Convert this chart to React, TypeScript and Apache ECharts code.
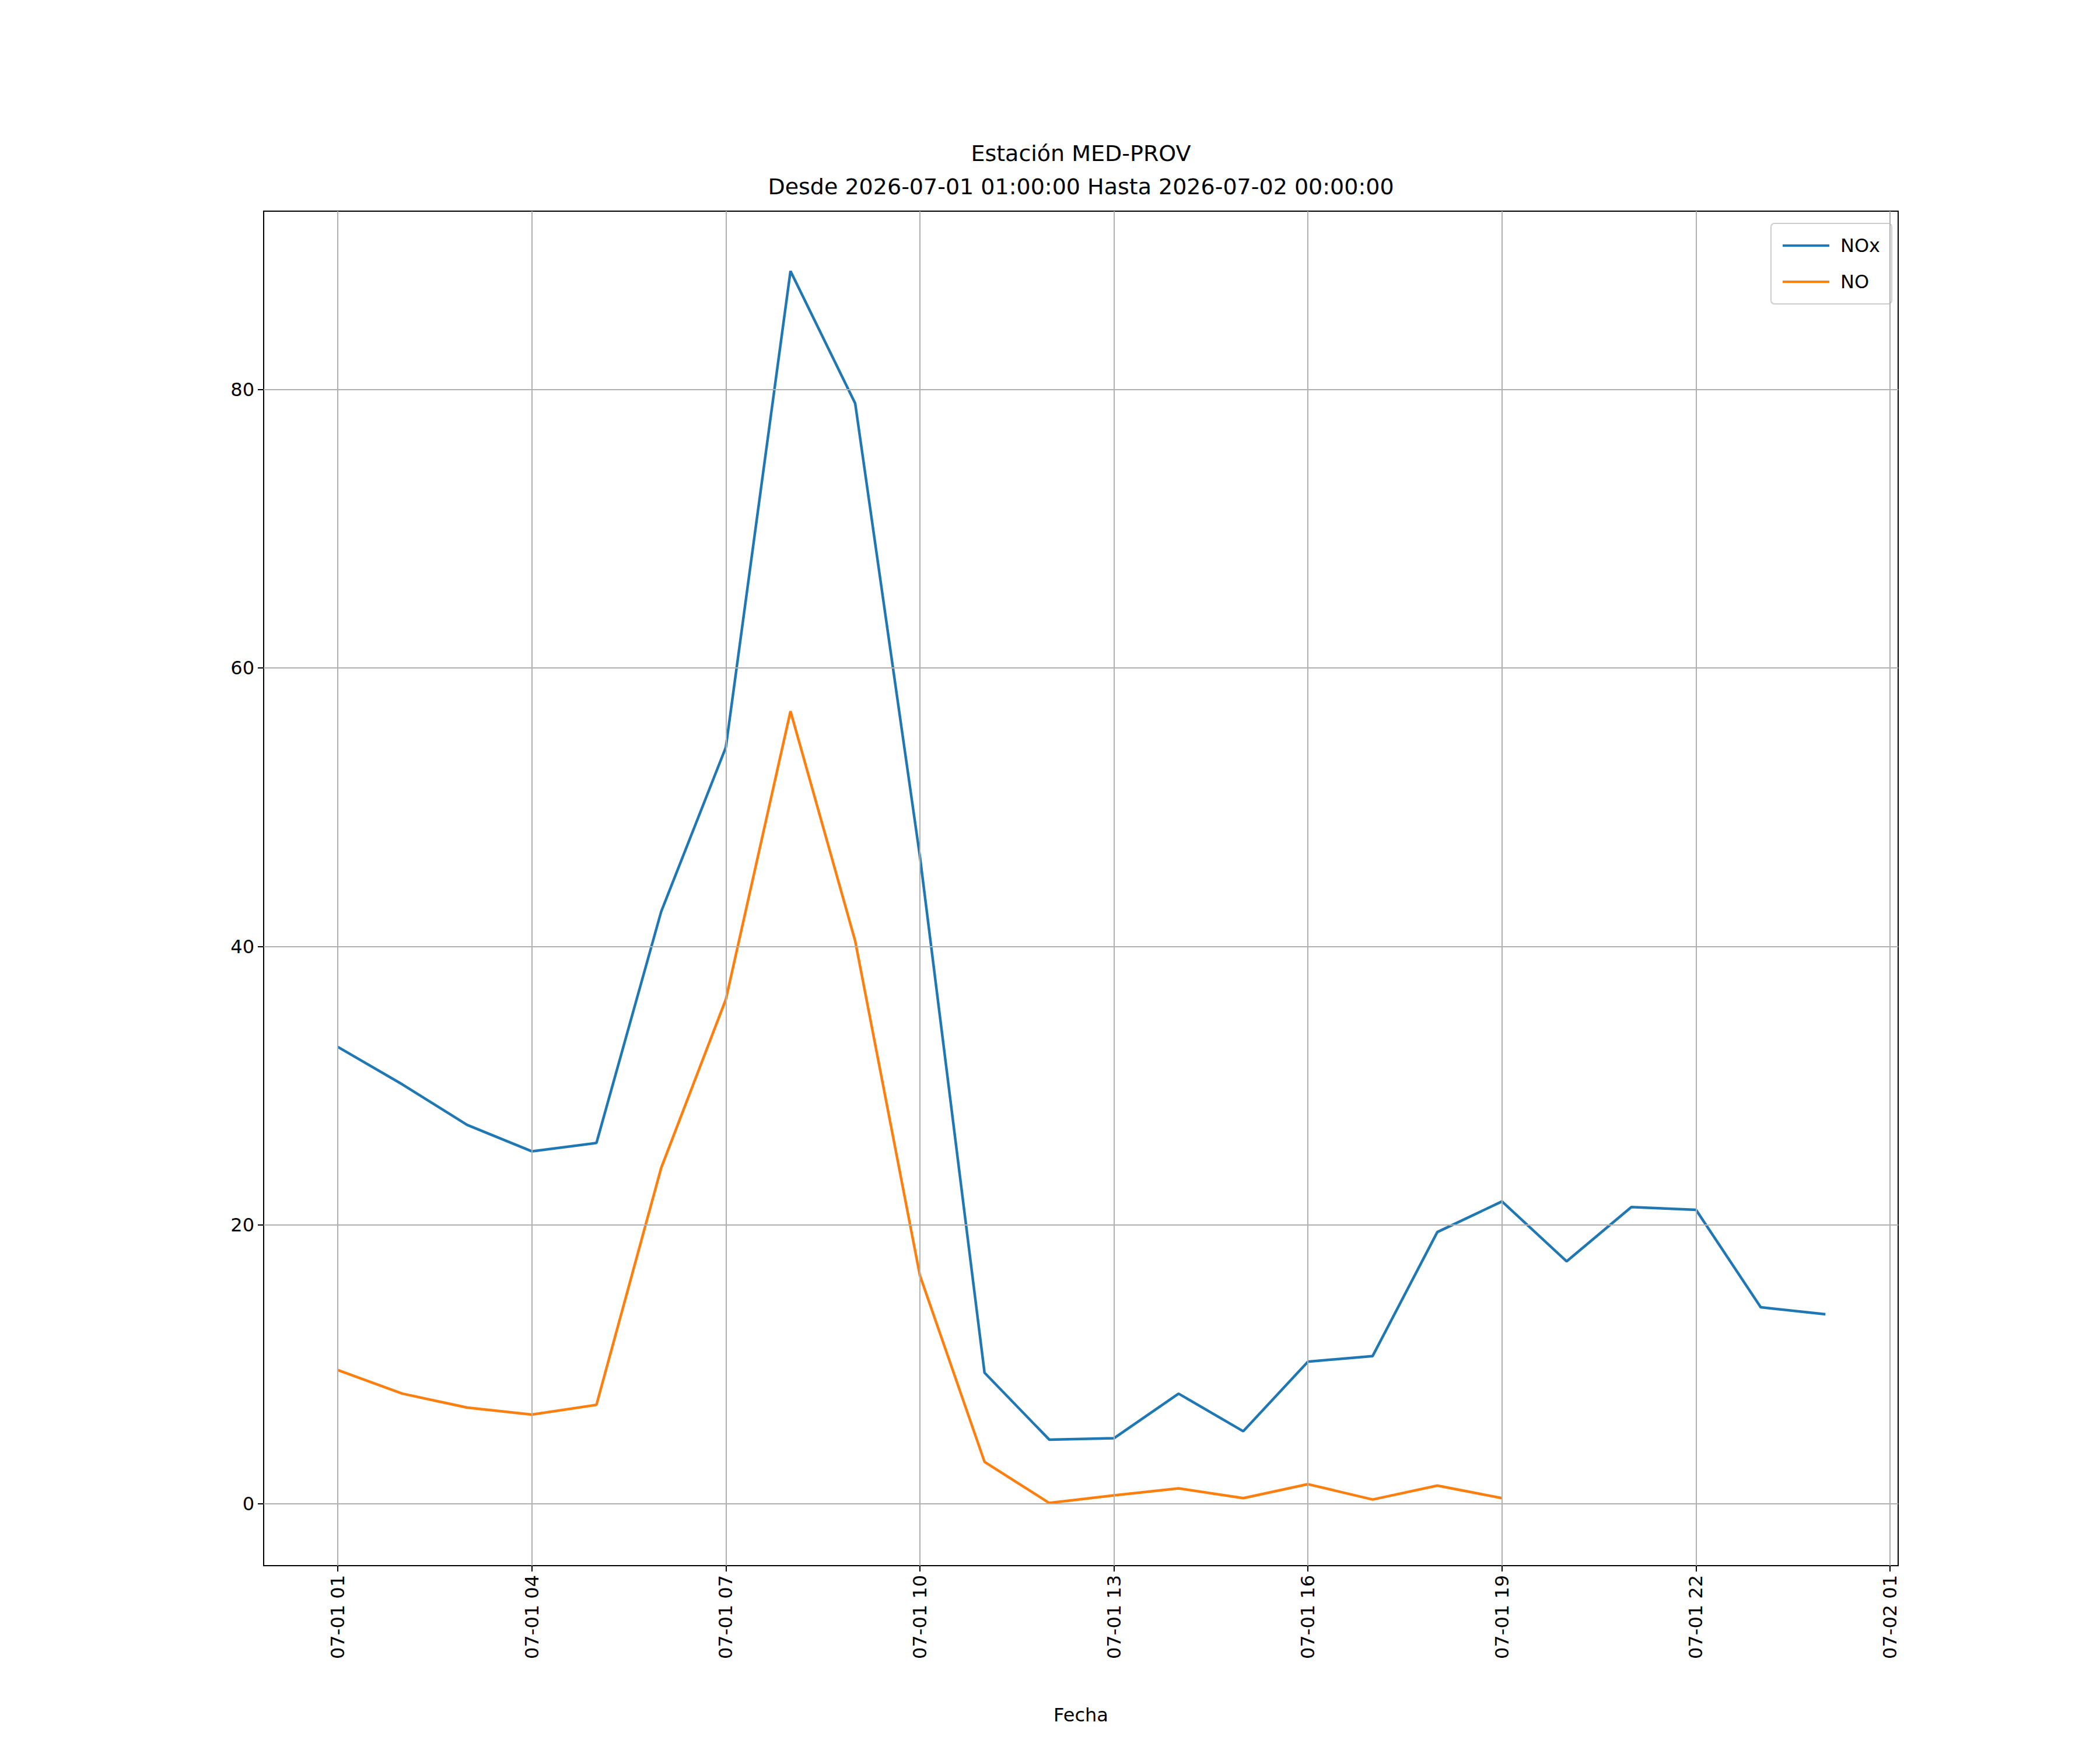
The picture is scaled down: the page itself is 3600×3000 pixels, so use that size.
import { useEffect, useRef } from "react";
import * as echarts from "echarts";

const hours = [1, 2, 3, 4, 5, 6, 7, 8, 9, 10, 11, 12, 13, 14, 15, 16, 17, 18, 19, 20, 21, 22, 23, 24];
const noxValues = [32.8, 30.1, 27.2, 25.3, 25.9, 42.5, 54.3, 88.5, 79.0, 46.5, 9.4, 4.6, 4.7, 7.9, 5.2, 10.2, 10.6, 19.5, 21.7, 17.4, 21.3, 21.1, 14.1, 13.6];
const noValues = [9.6, 7.9, 6.9, 6.4, 7.1, 24.1, 36.2, 56.9, 40.4, 16.4, 3.0, 0.05, 0.6, 1.1, 0.4, 1.4, 0.3, 1.3, 0.4];
const xTicks = [1, 4, 7, 10, 13, 16, 19, 22, 25];
const xTickLabels = ["07-01 01", "07-01 04", "07-01 07", "07-01 10", "07-01 13", "07-01 16", "07-01 19", "07-01 22", "07-02 01"];
const yTicks = [0, 20, 40, 60, 80];

const font = "DejaVu Sans";

export default function App() {
  const ref = useRef<HTMLDivElement>(null);

  useEffect(() => {
    if (!ref.current) return;
    const chart = echarts.init(ref.current, null, { renderer: "svg" });
    const gridStyle = { color: "#b0b0b0", width: 2, type: "solid" as const };
    chart.setOption({
      animation: false,
      backgroundColor: "#fff",
      textStyle: { fontFamily: font },
      grid: { left: 444, top: 354, width: 2802, height: 2322, show: true, borderColor: "#000", borderWidth: 2, backgroundColor: "transparent" },
      graphic: [
        { type: "text", x: 1845, y: 255, style: { text: "Estación MED-PROV", font: `38px "${font}"`, fill: "#000", textAlign: "center", textVerticalAlign: "middle" } },
        { type: "text", x: 1845, y: 312, style: { text: "Desde 2026-07-01 01:00:00 Hasta 2026-07-02 00:00:00", font: `38px "${font}"`, fill: "#000", textAlign: "center", textVerticalAlign: "middle" } },
        { type: "text", x: 1845, y: 2932, style: { text: "Fecha", font: `32px "${font}"`, fill: "#000", textAlign: "center", textVerticalAlign: "middle" } },
      ],
      legend: {
        right: 365,
        top: 375,
        orient: "vertical",
        align: "left",
        itemWidth: 80,
        itemHeight: 4,
        itemGap: 30,
        icon: "rect",
        padding: [22, 20, 22, 20],
        borderColor: "#cccccc",
        borderWidth: 2,
        borderRadius: 6,
        textStyle: { fontSize: 32, color: "#000", fontFamily: font, padding: [0, 0, 0, 14] },
        data: ["NOx", "NO"],
      },
      xAxis: {
        type: "value",
        min: -0.145,
        max: 25.125,
        splitLine: { show: false },
        axisLine: { onZero: false, lineStyle: { color: "#000", width: 2 } },
        axisTick: { customValues: xTicks, length: 10, lineStyle: { color: "#000", width: 2 } },
        axisLabel: {
          customValues: xTicks,
          rotate: 90,
          fontSize: 32,
          color: "#000",
          margin: 16,
          formatter: (v: number) => xTickLabels[xTicks.indexOf(Math.round(v))] ?? "",
        },
      },
      yAxis: {
        type: "value",
        min: -4.45,
        max: 92.8,
        splitLine: { show: false },
        axisLine: { show: true, onZero: false, lineStyle: { color: "#000", width: 2 } },
        axisTick: { show: true, customValues: yTicks, length: 10, lineStyle: { color: "#000", width: 2 } },
        axisLabel: { customValues: yTicks, fontSize: 32, color: "#000", margin: 16 },
      },
      series: [
        {
          name: "grid",
          type: "line",
          data: [],
          silent: true,
          markLine: {
            silent: true,
            symbol: "none",
            label: { show: false },
            lineStyle: gridStyle,
            data: [
              ...xTicks.map((v) => ({ xAxis: v })),
              ...yTicks.map((v) => ({ yAxis: v })),
            ],
          },
        },
        {
          name: "NOx",
          type: "line",
          showSymbol: false,
          data: hours.map((h, i) => [h, noxValues[i]]),
          lineStyle: { color: "#1f77b4", width: 4.5 },
          itemStyle: { color: "#1f77b4" },
        },
        {
          name: "NO",
          type: "line",
          showSymbol: false,
          data: noValues.map((v, i) => [hours[i], v]),
          lineStyle: { color: "#ff7f0e", width: 4.5 },
          itemStyle: { color: "#ff7f0e" },
        },
      ],
    });
    return () => chart.dispose();
  }, []);

  return <div ref={ref} style={{ width: 3600, height: 3000 }} />;
}
